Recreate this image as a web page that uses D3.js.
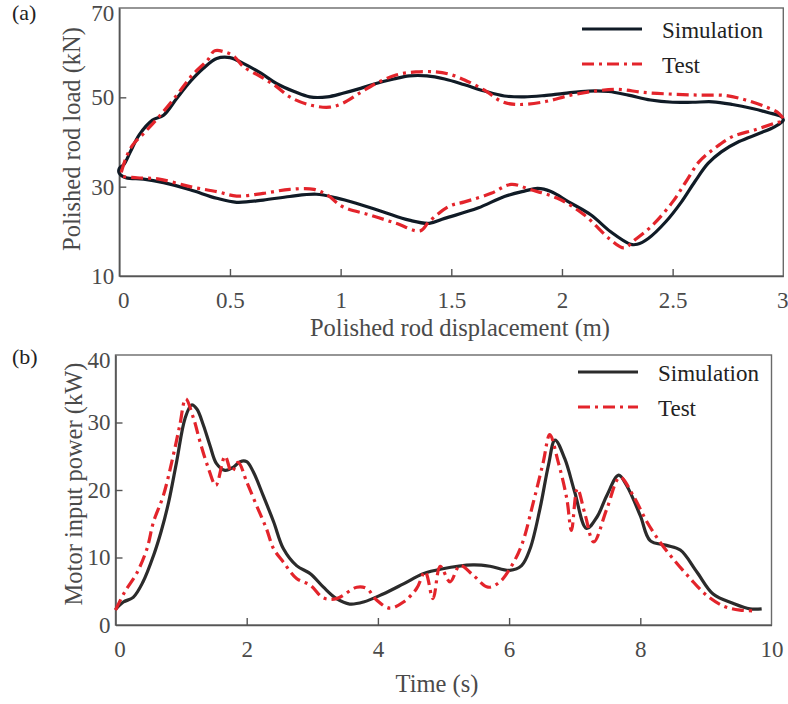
<!DOCTYPE html>
<html>
<meta charset="utf-8">
<script src="https://d3js.org/d3.v7.min.js"></script>
<style>
  body { margin: 0; background: #fff; }
  svg text { font-family: "Liberation Serif", "Times New Roman", serif; }
</style>
<body>
<div id="chart"></div>
<script>

// (a) polished rod load vs displacement, closed loop: [displacement m, load kN]
var simLoop = [[0.00,34.1],[0.02,34.9],[0.05,37.8],[0.09,41.6],[0.15,44.9],[0.20,46.0],[0.26,49.8],[0.32,53.5],
  [0.38,56.5],[0.44,58.7],[0.50,58.9],[0.56,57.6],[0.64,55.4],[0.71,53.1],[0.79,51.3],[0.86,50.1],[0.94,50.1],
  [1.01,50.9],[1.09,52.0],[1.16,53.1],[1.24,54.1],[1.31,54.8],[1.39,54.8],[1.47,54.1],[1.56,52.8],[1.65,51.4],
  [1.74,50.3],[1.83,50.1],[1.92,50.4],[2.01,50.9],[2.12,51.4],[2.21,51.3],[2.30,50.5],[2.40,49.4],[2.50,48.9],
  [2.59,48.9],[2.68,49.0],[2.77,48.4],[2.86,47.5],[2.93,46.6],[2.99,45.7],[3.00,44.9],[2.96,43.4],[2.89,41.9],
  [2.80,40.1],[2.72,37.8],[2.66,35.2],[2.60,31.1],[2.54,26.6],[2.47,22.2],[2.39,18.4],[2.34,17.1],[2.31,17.1],
  [2.22,19.9],[2.13,23.7],[2.03,26.6],[1.95,28.9],[1.89,29.6],[1.83,29.0],[1.74,27.8],[1.62,25.2],[1.47,22.9],
  [1.40,21.8],[1.31,22.5],[1.19,24.4],[1.07,26.3],[0.98,27.5],[0.89,28.3],[0.77,27.8],[0.65,27.0],[0.53,26.5],
  [0.44,27.4],[0.32,29.3],[0.20,30.9],[0.11,31.7],[0.03,32.0],[0.00,33.0],[0.00,34.1],[0.02,34.9]];

var testLoop = [[0.01,33.4],[0.03,36.4],[0.06,39.3],[0.11,41.9],[0.18,45.7],[0.26,50.5],[0.33,55.0],[0.40,58.4],
  [0.43,60.4],[0.48,60.1],[0.52,59.1],[0.56,56.9],[0.64,54.6],[0.71,52.4],[0.77,50.1],[0.86,48.3],[0.95,47.8],
  [1.01,48.7],[1.09,51.1],[1.16,53.1],[1.25,55.0],[1.34,55.7],[1.43,55.7],[1.49,55.2],[1.56,53.9],[1.65,51.6],
  [1.73,49.0],[1.80,48.4],[1.92,49.0],[2.04,50.5],[2.15,51.4],[2.25,51.8],[2.37,51.1],[2.50,50.7],[2.62,50.5],
  [2.74,50.4],[2.83,49.4],[2.92,47.9],[2.98,46.4],[3.00,44.9],[2.96,44.2],[2.87,42.7],[2.77,41.2],[2.69,38.6],
  [2.62,35.6],[2.56,31.1],[2.50,26.6],[2.41,21.4],[2.33,18.1],[2.28,16.3],[2.22,18.1],[2.10,23.7],[1.98,27.4],
  [1.86,29.3],[1.77,30.5],[1.68,28.5],[1.56,26.6],[1.49,25.6],[1.40,22.2],[1.36,20.1],[1.25,21.8],[1.13,23.7],
  [1.01,25.5],[0.94,28.1],[0.88,29.4],[0.77,29.4],[0.65,28.5],[0.53,27.9],[0.44,28.9],[0.32,30.0],[0.18,31.7],
  [0.08,32.0],[0.01,32.5],[0.01,33.4]];

// (b) motor input power vs time: [time s, power kW]
var simPower = [[0,2.3],[0.12,3.4],[0.27,4.1],[0.42,6.4],[0.58,10.3],[0.70,14.0],[0.81,18.2],[0.93,24.1],[1.06,30.6],
  [1.16,32.6],[1.24,32.0],[1.34,29.6],[1.44,26.6],[1.54,23.9],[1.67,22.9],[1.80,23.4],[1.90,24.2],[2.00,24.2],
  [2.10,22.7],[2.25,19.2],[2.41,15.3],[2.56,11.3],[2.76,8.8],[2.97,7.6],[3.17,5.6],[3.37,3.9],[3.57,3.1],
  [3.78,3.4],[4.08,4.6],[4.39,6.1],[4.69,7.6],[4.97,8.3],[5.45,8.9],[5.71,8.7],[6.01,8.1],[6.19,8.8],[6.32,11.3],
  [6.47,17.2],[6.60,23.7],[6.70,27.4],[6.85,24.6],[7.00,19.7],[7.18,14.3],[7.34,16.0],[7.49,19.2],[7.67,22.2],
  [7.79,20.7],[8.00,16.2],[8.15,12.5],[8.40,11.8],[8.61,11.1],[8.86,7.9],[9.11,4.6],[9.42,3.2],[9.67,2.4],[9.85,2.4]];

var testPower = [[0,2.2],[0.14,4.9],[0.32,7.6],[0.48,11.3],[0.58,15.3],[0.73,19.2],[0.88,25.1],[0.98,29.6],[1.07,33.5],
  [1.19,30.6],[1.29,27.1],[1.41,23.4],[1.53,20.7],[1.67,25.0],[1.77,22.7],[1.87,24.1],[2.00,21.2],[2.15,17.7],
  [2.30,14.3],[2.41,11.3],[2.56,9.3],[2.76,6.9],[2.97,5.9],[3.17,4.0],[3.37,3.9],[3.68,5.6],[3.83,5.4],[3.98,3.7],
  [4.18,2.5],[4.39,3.4],[4.59,5.4],[4.72,7.9],[4.84,3.9],[4.95,8.7],[5.10,6.4],[5.25,8.8],[5.45,7.4],[5.68,5.6],
  [5.86,6.4],[6.01,8.3],[6.19,11.8],[6.37,18.2],[6.52,24.1],[6.62,28.2],[6.75,24.1],[6.88,18.7],[6.95,14.0],
  [7.04,20.2],[7.16,16.3],[7.29,12.3],[7.49,17.2],[7.69,21.9],[7.89,19.2],[8.10,15.3],[8.30,12.3],[8.50,9.8],
  [8.76,6.9],[9.01,4.4],[9.27,2.8],[9.52,2.2],[9.75,2.1]];

var dispTicks = [0, 0.5, 1, 1.5, 2, 2.5, 3];
var loadTicks = [10, 30, 50, 70];
var timeTicks = [0, 2, 4, 6, 8, 10];
var powerTicks = [0, 10, 20, 30, 40];
var seriesNames = ["Simulation", "Test"];

var svg = d3.select("#chart").append("svg")
    .attr("width", 788)
    .attr("height", 704);

var red = "#e3242b";
var dashDot = "12,5,3,5";

function panel(o) {
  var x = d3.scaleLinear().domain(o.xDomain).range([o.left, o.right]);
  var y = d3.scaleLinear().domain(o.yDomain).range([o.bottom, o.top]);
  var g = svg.append("g");

  // box
  g.append("rect")
      .attr("x", o.left).attr("y", o.top)
      .attr("width", o.right - o.left).attr("height", o.bottom - o.top)
      .attr("fill", "none").attr("stroke", "#6a6a6a").attr("stroke-width", 1.4);

  var xa = g.append("g")
      .attr("transform", "translate(0," + o.bottom + ")")
      .call(d3.axisBottom(x).tickValues(o.xTicks).tickSizeInner(-7).tickSizeOuter(0).tickPadding(16)
        .tickFormat(d3.format("")));
  var ya = g.append("g")
      .attr("transform", "translate(" + o.left + ",0)")
      .call(d3.axisLeft(y).tickValues(o.yTicks).tickSizeInner(-7).tickSizeOuter(0).tickPadding(5)
        .tickFormat(d3.format("")));

  [xa, ya].forEach(function(a) {
    a.select(".domain").attr("stroke", "#555").attr("stroke-width", 1.6);
    a.selectAll(".tick line").attr("stroke", "#555").attr("stroke-width", 1.4);
    a.selectAll(".tick text").style("font-size", "23px").attr("fill", "#4a4a4a")
      .style("font-family", "'Liberation Serif', 'Times New Roman', serif");
  });
  // hide ticks on the box edges, nudge end labels like the original
  xa.selectAll(".tick line").filter(function(d) { return d === o.xDomain[0] || d === o.xDomain[1]; }).remove();
  ya.selectAll(".tick line").filter(function(d) { return d === o.yDomain[0] || d === o.yDomain[1]; }).remove();
  ya.selectAll(".tick text").filter(function(d) { return d === o.yDomain[1]; }).attr("dy", "0.55em");
  xa.selectAll(".tick text").filter(function(d) { return d === o.xDomain[0]; }).attr("dx", 4);
  xa.selectAll(".tick text").filter(function(d) { return d === o.xDomain[1]; }).attr("dx", o.lastDx);

  var line = d3.line()
      .x(function(d) { return x(d[0]); })
      .y(function(d) { return y(d[1]); })
      .curve(d3.curveCatmullRom.alpha(0.5));

  g.append("path").datum(o.sim)
      .attr("d", line).attr("fill", "none")
      .attr("stroke", o.simColor).attr("stroke-width", 3.2).attr("stroke-linejoin", "round");
  g.append("path").datum(o.test)
      .attr("d", line).attr("fill", "none")
      .attr("stroke", red).attr("stroke-width", 3.2).attr("stroke-dasharray", dashDot);

  // axis titles
  g.append("text")
      .attr("x", o.xLabelX).attr("y", o.xLabelY)
      .attr("text-anchor", "middle").style("font-size", "24.5px").attr("fill", "#4a4a4a")
      .text(o.xLabel);
  g.append("text")
      .attr("transform", "translate(" + o.yLabelX + "," + o.yLabelY + ") rotate(-90)")
      .attr("text-anchor", "middle").style("font-size", "24.5px").attr("fill", "#4a4a4a")
      .text(o.yLabel);
  g.append("text")
      .attr("x", 12).attr("y", o.tagY)
      .style("font-size", "22px").attr("fill", "#222")
      .text(o.tag);

  // legend
  var lg = g.append("g").attr("transform", "translate(" + o.legX + "," + o.legY + ")");
  seriesNames.forEach(function(name, i) {
    var yy = i * 35;
    lg.append("line")
        .attr("x1", 0).attr("x2", 60).attr("y1", yy).attr("y2", yy)
        .attr("stroke", i === 0 ? o.simColor : red).attr("stroke-width", 3.2)
        .attr("stroke-dasharray", i === 0 ? null : dashDot);
    lg.append("text")
        .attr("x", 80).attr("y", yy + 9)
        .style("font-size", "23px").attr("fill", "#222")
        .text(name);
  });
}

panel({
  xDomain: [0, 3], yDomain: [10, 70],
  left: 119.3, right: 783.3, top: 8, bottom: 276,
  xTicks: dispTicks, yTicks: loadTicks, lastDx: -1,
  sim: simLoop, test: testLoop, simColor: "#101b26",
  xLabel: "Polished rod displacement (m)", xLabelX: 460, xLabelY: 336,
  yLabel: "Polished rod load (kN)", yLabelX: 80, yLabelY: 139,
  tag: "(a)", tagY: 20,
  legX: 582, legY: 29
});

panel({
  xDomain: [0, 10], yDomain: [0, 40],
  left: 115.5, right: 771.5, top: 355, bottom: 625,
  xTicks: timeTicks, yTicks: powerTicks, lastDx: 0,
  sim: simPower, test: testPower, simColor: "#2b2b2b",
  xLabel: "Time (s)", xLabelX: 437, xLabelY: 692,
  yLabel: "Motor input power (kW)", yLabelX: 82, yLabelY: 484,
  tag: "(b)", tagY: 364,
  legX: 578, legY: 372
});

</script>
</body>
</html>
